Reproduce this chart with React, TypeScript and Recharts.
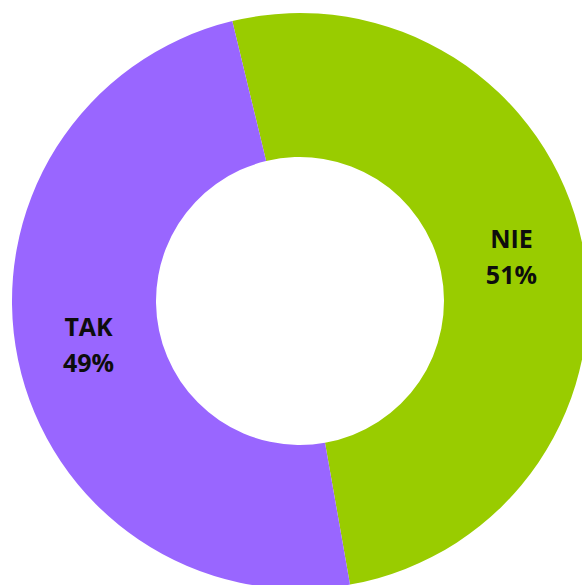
import { Cell, Pie, PieChart } from "recharts";

const answers = ["NIE", "TAK"];
const shares = [51, 49];
const colors = ["#99CC00", "#9966FF"];

const data = answers.map((name, i) => ({ name, value: shares[i] }));

const RADIAN = Math.PI / 180;

function renderLabel(props: any) {
  const { cx, cy, midAngle, innerRadius, outerRadius, name, percent } = props;
  const r = (innerRadius + outerRadius) / 2;
  const x = cx + r * Math.cos(-midAngle * RADIAN);
  const y = cy + r * Math.sin(-midAngle * RADIAN);
  return (
    <text
      x={x}
      y={y}
      textAnchor="middle"
      fill="#0d0d0d"
      fontFamily="'Open Sans', sans-serif"
      fontWeight={700}
      fontSize={25}
    >
      <tspan x={x} dy={-9}>
        {name}
      </tspan>
      <tspan x={x} dy={36}>
        {`${Math.round(percent * 100)}%`}
      </tspan>
    </text>
  );
}

export default function App() {
  return (
    <div style={{ position: "absolute", left: 0, top: 0, width: 582, height: 585, background: "#fff" }}>
      <PieChart width={582} height={585} margin={{ top: 0, right: 0, bottom: 0, left: 0 }}>
        <Pie
          data={data}
          dataKey="value"
          nameKey="name"
          cx={300}
          cy={301}
          innerRadius={144}
          outerRadius={288}
          startAngle={103.6}
          endAngle={-256.4}
          stroke="none"
          label={renderLabel}
          labelLine={false}
          isAnimationActive={false}
        >
          {data.map((d, i) => (
            <Cell key={d.name} fill={colors[i]} />
          ))}
        </Pie>
      </PieChart>
    </div>
  );
}
